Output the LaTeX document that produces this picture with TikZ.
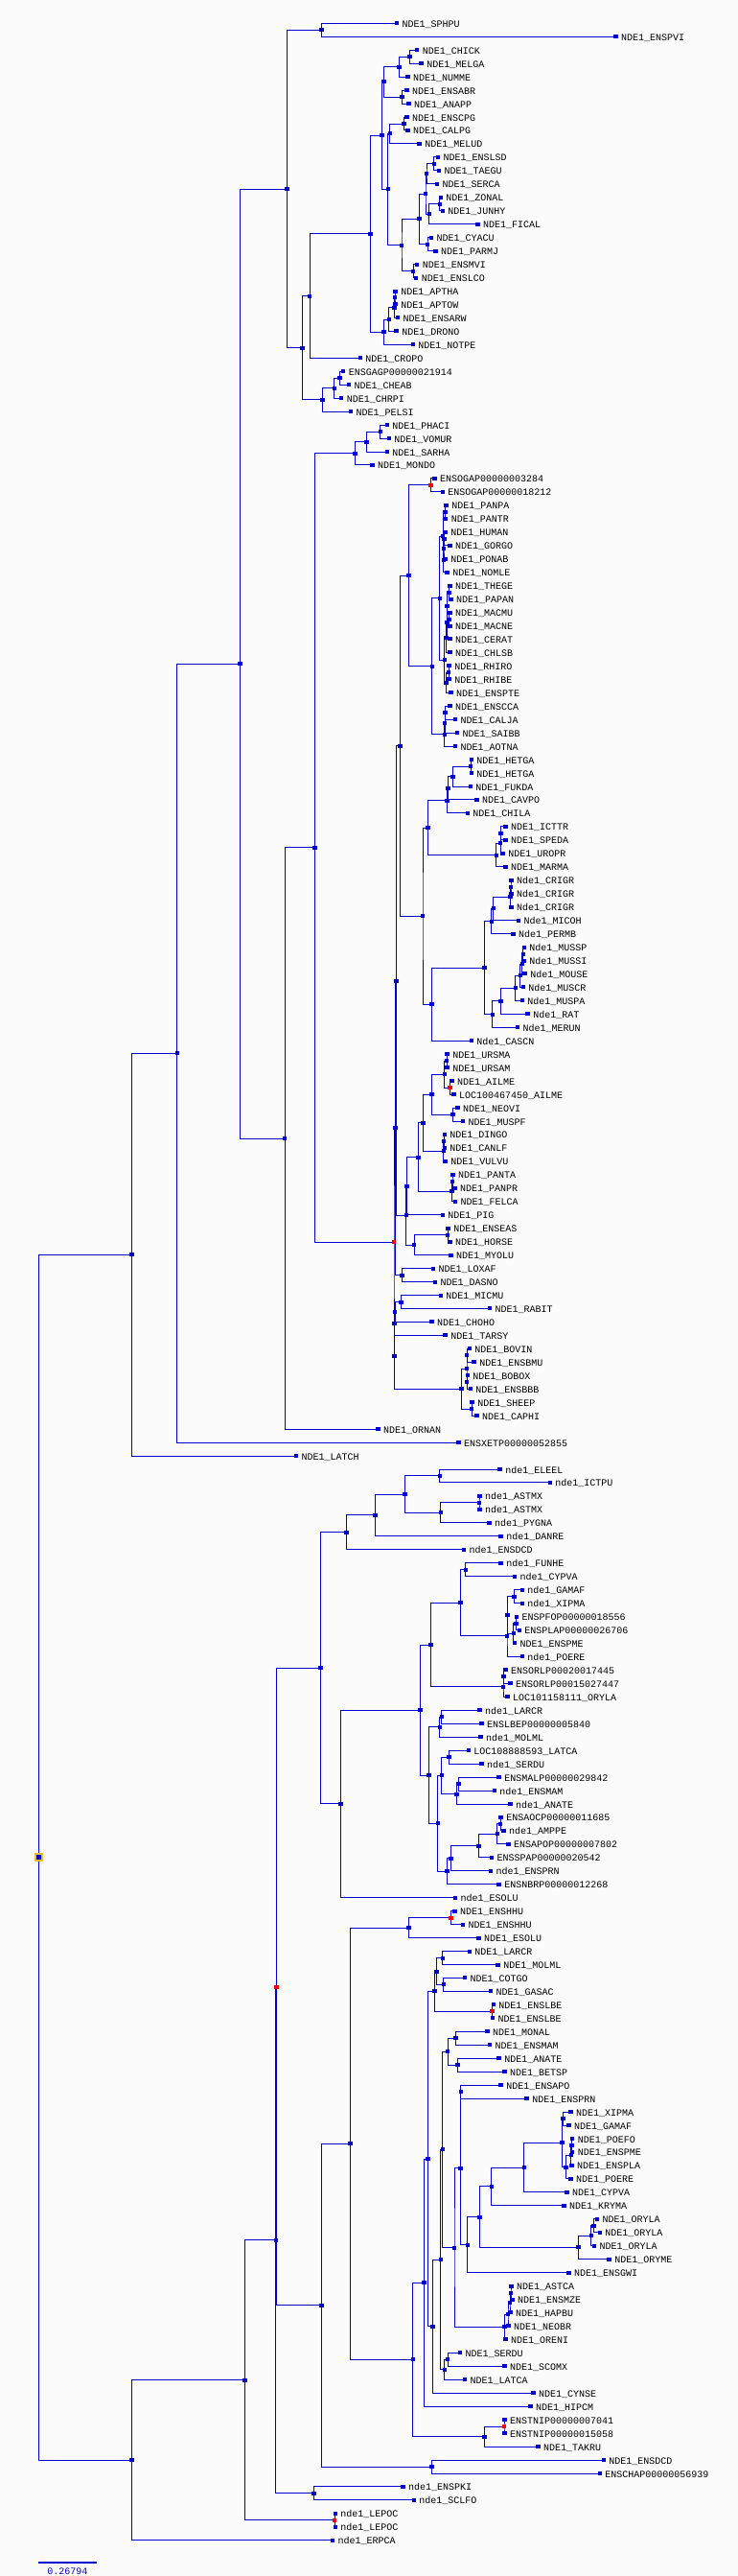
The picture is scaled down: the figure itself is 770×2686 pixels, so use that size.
\documentclass[tikz,border=0pt]{standalone}
\usepackage{fontspec}
\setmonofont{Liberation Mono}
\usetikzlibrary{calc}
\pgfdeclarelayer{bg}
\pgfsetlayers{bg,main}
\definecolor{treeblue}{RGB}{0,0,204}
\definecolor{duplred}{RGB}{255,0,0}
\definecolor{rootgold}{RGB}{235,190,40}
\definecolor{paper}{RGB}{251,251,251}
\tikzset{branch/.style={draw=treeblue, line width=1pt}}
\tikzset{sq/.style={shape=rectangle, fill=treeblue, inner sep=0pt,
    minimum width=4.4pt, minimum height=4pt}}
\tikzset{tip/.style={sq}, inner/.style={sq}, dup/.style={sq, fill=duplred},
    rootnode/.style={sq, draw=rootgold, line width=1.5pt, minimum width=7pt, minimum height=7pt}}
\tikzset{lab/.style={anchor=base west, inner sep=0pt, xshift=5.5pt, yshift=-4pt,
    font=\ttfamily\fontsize{10}{10}\selectfont}}
% leaf: name, row, x, text
\newcommand{\leaf}[4]{%
  \node[tip] (#1) at (#3,{24.3+13.96*(#2-1)}) {};
  \node[lab] (#1t) at (#1.center) {#4};}
% clade: [style] name, x, first child, last child
\newcommand{\clade}[5][inner]{%
  \coordinate (#2x) at (#3,0);
  \coordinate (#2m) at ($(#4)!.5!(#5)$);
  \node[#1] (#2) at (#2x |- #2m) {};
  \begin{pgfonlayer}{bg}
    \draw[branch] (#4.center) -| (#2.center) |- (#5.center);
  \end{pgfonlayer}}

\begin{document}
\begin{tikzpicture}[x=1pt, y=-1pt]
    \begin{pgfonlayer}{bg}
      \fill[paper] (0,0) rectangle (770,2686);
    \end{pgfonlayer}
    \useasboundingbox (0,0) rectangle (770,2686);
    % birds and reptiles
    \leaf{l1}{1}{414.0}{NDE1\_SPHPU}
    \leaf{l2}{2}{642.4}{NDE1\_ENSPVI}
    \leaf{l3}{3}{435.2}{NDE1\_CHICK}
    \leaf{l4}{4}{439.6}{NDE1\_MELGA}
    \leaf{l5}{5}{425.3}{NDE1\_NUMME}
    \leaf{l6}{6}{424.4}{NDE1\_ENSABR}
    \leaf{l7}{7}{426.3}{NDE1\_ANAPP}
    \leaf{l8}{8}{424.4}{NDE1\_ENSCPG}
    \leaf{l9}{9}{425.3}{NDE1\_CALPG}
    \leaf{l10}{10}{437.6}{NDE1\_MELUD}
    \leaf{l11}{11}{456.8}{NDE1\_ENSLSD}
    \leaf{l12}{12}{457.8}{NDE1\_TAEGU}
    \leaf{l13}{13}{455.8}{NDE1\_SERCA}
    \leaf{l14}{14}{459.7}{NDE1\_ZONAL}
    \leaf{l15}{15}{461.7}{NDE1\_JUNHY}
    \leaf{l16}{16}{498.5}{NDE1\_FICAL}
    \leaf{l17}{17}{449.9}{NDE1\_CYACU}
    \leaf{l18}{18}{454.3}{NDE1\_PARMJ}
    \leaf{l19}{19}{435.2}{NDE1\_ENSMVI}
    \leaf{l20}{20}{434.2}{NDE1\_ENSLCO}
    \leaf{l21}{21}{412.6}{NDE1\_APTHA}
    \leaf{l22}{22}{412.6}{NDE1\_APTOW}
    \leaf{l23}{23}{415.0}{NDE1\_ENSARW}
    \leaf{l24}{24}{413.6}{NDE1\_DRONO}
    \leaf{l25}{25}{430.7}{NDE1\_NOTPE}
    \leaf{l26}{26}{375.7}{NDE1\_CROPO}
    \leaf{l27}{27}{358.1}{ENSGAGP00000021914}
    \leaf{l28}{28}{364.0}{NDE1\_CHEAB}
    \leaf{l29}{29}{356.1}{NDE1\_CHRPI}
    \leaf{l30}{30}{365.9}{NDE1\_PELSI}
    \clade{sph}{335.5}{l1}{l2}
    \clade{chmel}{427.3}{l3}{l4}
    \clade{phas}{416.5}{chmel}{l5}
    \clade{anas}{419.4}{l6}{l7}
    \clade{gallo}{400.3}{phas}{anas}
    \clade{calpg}{421.4}{l8}{l9}
    \clade{apod}{406.7}{calpg}{l10}
    \clade{lsd}{452.8}{l11}{l12}
    \clade{serca}{445.0}{lsd}{l13}
    \clade{zonal}{458.7}{l14}{l15}
    \clade{fical}{447.9}{zonal}{l16}
    \clade{passA}{444.0}{serca}{fical}
    \clade{cyacu}{446.0}{l17}{l18}
    \clade{passB}{437.6}{passA}{cyacu}
    \clade{mvi}{431.2}{l19}{l20}
    \clade{neoav}{419.0}{passB}{mvi}
    \clade{apodB}{404.7}{apod}{neoav}
    \clade{neog}{398.3}{gallo}{apodB}
    \clade{apt}{412.0}{l21}{l22}
    \clade{aptB}{411.5}{apt}{l23}
    \clade{drono}{405.7}{aptB}{l24}
    \clade{ratite}{400.3}{drono}{l25}
    \clade{aves}{386.5}{neog}{ratite}
    \clade{cropo}{323.2}{aves}{l26}
    \clade{chel}{354.6}{l27}{l28}
    \clade{chelB}{348.7}{chel}{l29}
    \clade{chelC}{336.4}{chelB}{l30}
    \clade{sauria}{315.3}{cropo}{chelC}
    \clade{sauB}{299.6}{sph}{sauria}
    % mammals
    \leaf{l31}{31}{403.7}{NDE1\_PHACI}
    \leaf{l32}{32}{405.7}{NDE1\_VOMUR}
    \leaf{l33}{33}{403.7}{NDE1\_SARHA}
    \leaf{l34}{34}{388.5}{NDE1\_MONDO}
    \leaf{l35}{35}{453.3}{ENSOGAP00000003284}
    \leaf{l36}{36}{461.7}{ENSOGAP00000018212}
    \leaf{l37}{37}{465.6}{NDE1\_PANPA}
    \leaf{l38}{38}{465.1}{NDE1\_PANTR}
    \leaf{l39}{39}{464.6}{NDE1\_HUMAN}
    \leaf{l40}{40}{469.5}{NDE1\_GORGO}
    \leaf{l41}{41}{464.6}{NDE1\_PONAB}
    \leaf{l42}{42}{466.6}{NDE1\_NOMLE}
    \leaf{l43}{43}{469.5}{NDE1\_THEGE}
    \leaf{l44}{44}{470.5}{NDE1\_PAPAN}
    \leaf{l45}{45}{469.5}{NDE1\_MACMU}
    \leaf{l46}{46}{469.5}{NDE1\_MACNE}
    \leaf{l47}{47}{469.5}{NDE1\_CERAT}
    \leaf{l48}{48}{469.5}{NDE1\_CHLSB}
    \leaf{l49}{49}{468.6}{NDE1\_RHIRO}
    \leaf{l50}{50}{468.6}{NDE1\_RHIBE}
    \leaf{l51}{51}{470.5}{NDE1\_ENSPTE}
    \leaf{l52}{52}{469.5}{NDE1\_ENSCCA}
    \leaf{l53}{53}{475.0}{NDE1\_CALJA}
    \leaf{l54}{54}{476.9}{NDE1\_SAIBB}
    \leaf{l55}{55}{475.0}{NDE1\_AOTNA}
    \leaf{l56}{56}{491.7}{NDE1\_HETGA}
    \leaf{l57}{57}{491.7}{NDE1\_HETGA}
    \leaf{l58}{58}{490.7}{NDE1\_FUKDA}
    \leaf{l59}{59}{497.5}{NDE1\_CAVPO}
    \leaf{l60}{60}{487.7}{NDE1\_CHILA}
    \leaf{l61}{61}{527.5}{NDE1\_ICTTR}
    \leaf{l62}{62}{527.5}{NDE1\_SPEDA}
    \leaf{l63}{63}{524.6}{NDE1\_UROPR}
    \leaf{l64}{64}{527.5}{NDE1\_MARMA}
    \leaf{l65}{65}{533.4}{Nde1\_CRIGR}
    \leaf{l66}{66}{533.4}{Nde1\_CRIGR}
    \leaf{l67}{67}{533.4}{Nde1\_CRIGR}
    \leaf{l68}{68}{540.8}{Nde1\_MICOH}
    \leaf{l69}{69}{535.4}{Nde1\_PERMB}
    \leaf{l70}{70}{546.7}{Nde1\_MUSSP}
    \leaf{l71}{71}{546.7}{Nde1\_MUSSI}
    \leaf{l72}{72}{547.6}{Nde1\_MOUSE}
    \leaf{l73}{73}{545.7}{Nde1\_MUSCR}
    \leaf{l74}{74}{544.7}{Nde1\_MUSPA}
    \leaf{l75}{75}{550.6}{Nde1\_RAT}
    \leaf{l76}{76}{539.8}{Nde1\_MERUN}
    \leaf{l77}{77}{491.7}{Nde1\_CASCN}
    \leaf{l78}{78}{466.6}{NDE1\_URSMA}
    \leaf{l79}{79}{466.6}{NDE1\_URSAM}
    \leaf{l80}{80}{471.5}{NDE1\_AILME}
    \leaf{l81}{81}{473.5}{LOC100467450\_AILME}
    \leaf{l82}{82}{477.4}{NDE1\_NEOVI}
    \leaf{l83}{83}{482.8}{NDE1\_MUSPF}
    \leaf{l84}{84}{463.7}{NDE1\_DINGO}
    \leaf{l85}{85}{463.7}{NDE1\_CANLF}
    \leaf{l86}{86}{464.6}{NDE1\_VULVU}
    \leaf{l87}{87}{472.5}{NDE1\_PANTA}
    \leaf{l88}{88}{474.5}{NDE1\_PANPR}
    \leaf{l89}{89}{475.0}{NDE1\_FELCA}
    \leaf{l90}{90}{461.7}{NDE1\_PIG}
    \leaf{l91}{91}{467.6}{NDE1\_ENSEAS}
    \leaf{l92}{92}{469.5}{NDE1\_HORSE}
    \leaf{l93}{93}{470.5}{NDE1\_MYOLU}
    \leaf{l94}{94}{451.9}{NDE1\_LOXAF}
    \leaf{l95}{95}{453.8}{NDE1\_DASNO}
    \leaf{l96}{96}{459.7}{NDE1\_MICMU}
    \leaf{l97}{97}{510.8}{NDE1\_RABIT}
    \leaf{l98}{98}{450.4}{NDE1\_CHOHO}
    \leaf{l99}{99}{464.6}{NDE1\_TARSY}
    \leaf{l100}{100}{489.7}{NDE1\_BOVIN}
    \leaf{l101}{101}{494.6}{NDE1\_ENSBMU}
    \leaf{l102}{102}{487.7}{NDE1\_BOBOX}
    \leaf{l103}{103}{490.7}{NDE1\_ENSBBB}
    \leaf{l104}{104}{492.6}{NDE1\_SHEEP}
    \leaf{l105}{105}{497.5}{NDE1\_CAPHI}
    \leaf{l106}{106}{394.4}{NDE1\_ORNAN}
    \leaf{l107}{107}{478.4}{ENSXETP00000052855}
    \leaf{l108}{108}{309.0}{NDE1\_LATCH}
    \clade{phaci}{396.9}{l31}{l32}
    \clade{sarha}{382.6}{phaci}{l33}
    \clade{marsup}{370.3}{sarha}{l34}
    \clade[dup]{ogap}{449.4}{l35}{l36}
    \clade{pan}{464.6}{l37}{l38}
    \clade{homgor}{463.5}{l39}{l40}
    \clade{hgp}{463.0}{homgor}{l41}
    \clade{hgpn}{462.7}{hgp}{l42}
    \clade{hom}{462.2}{pan}{hgpn}
    \clade{thpa}{468.6}{l43}{l44}
    \clade{macs}{468.6}{l45}{l46}
    \clade{papio}{466.6}{thpa}{macs}
    \clade{cerat}{466.6}{papio}{l47}
    \clade{cercop}{465.6}{cerat}{l48}
    \clade{rhin}{468.1}{l49}{l50}
    \clade{colob}{465.6}{rhin}{l51}
    \clade{owm}{463.7}{cercop}{colob}
    \clade{catar}{458.7}{hom}{owm}
    \clade{cca}{464.6}{l52}{l53}
    \clade{saibb}{464.1}{cca}{l54}
    \clade{nwm}{463.7}{saibb}{l55}
    \clade{simi}{450.9}{catar}{nwm}
    \clade{prim}{426.3}{ogap}{simi}
    \clade{hetga}{491.2}{l56}{l57}
    \clade{fukda}{472.5}{hetga}{l58}
    \clade{cavpo}{467.6}{fukda}{l59}
    \clade{hystr}{466.6}{cavpo}{l60}
    \clade{ictsp}{522.6}{l61}{l62}
    \clade{uropr}{522.1}{ictsp}{l63}
    \clade{sciur}{517.7}{uropr}{l64}
    \clade{rodA}{446.5}{hystr}{sciur}
    \clade{crigrA}{533.0}{l65}{l66}
    \clade{crigrB}{532.5}{crigrA}{l67}
    \clade{micoh}{514.7}{crigrB}{l68}
    \clade{cricet}{512.8}{micoh}{l69}
    \clade{mussp}{545.7}{l70}{l71}
    \clade{mouse}{544.7}{mussp}{l72}
    \clade{muscr}{542.7}{mouse}{l73}
    \clade{muspa}{537.8}{muscr}{l74}
    \clade{rat}{522.6}{muspa}{l75}
    \clade{murid}{513.8}{rat}{l76}
    \clade{muroid}{505.4}{cricet}{murid}
    \clade{casto}{450.4}{muroid}{l77}
    \clade{rodent}{441.0}{rodA}{casto}
    \clade{euarch}{417.5}{prim}{rodent}
    \clade{ursid}{466.1}{l78}{l79}
    \clade[dup]{ailme}{469.5}{l80}{l81}
    \clade{arcto}{463.7}{ursid}{ailme}
    \clade{mustel}{472.5}{l82}{l83}
    \clade{arctoB}{450.4}{arcto}{mustel}
    \clade{dingo}{463.2}{l84}{l85}
    \clade{canid}{462.7}{dingo}{l86}
    \clade{canif}{441.5}{arctoB}{canid}
    \clade{panth}{472.0}{l87}{l88}
    \clade{felid}{471.5}{panth}{l89}
    \clade{carniv}{436.6}{canif}{felid}
    \clade{pig}{424.4}{carniv}{l90}
    \clade{equus}{467.1}{l91}{l92}
    \clade{myolu}{432.2}{equus}{l93}
    \clade{laura}{423.9}{pig}{myolu}
    \clade{boreo}{413.6}{euarch}{laura}
    \clade{atlan}{419.5}{l94}{l95}
    \clade{plac}{412.6}{boreo}{atlan}
    \clade{micmu}{418.5}{l96}{l97}
    \clade{choho}{412.1}{micmu}{l98}
    \clade{tarsy}{411.6}{choho}{l99}
    \clade{bosA}{487.2}{l100}{l101}
    \clade{bosB}{487.2}{l102}{l103}
    \clade{bos}{487.0}{bosA}{bosB}
    \clade{capri}{492.1}{l104}{l105}
    \clade{bovid}{481.3}{bos}{capri}
    \clade{placB}{411.3}{tarsy}{bovid}
    \clade[dup]{euth}{411.0}{plac}{placB}
    \clade{theria}{328.6}{marsup}{euth}
    \clade{mamm}{297.2}{theria}{l106}
    \clade{amniota}{250.5}{sauB}{mamm}
    \clade{tetra}{184.7}{amniota}{l107}
    \clade{sarco}{137.5}{tetra}{l108}
    % fishes, first copy
    \leaf{l109}{109}{521.6}{nde1\_ELEEL}
    \leaf{l110}{110}{573.7}{nde1\_ICTPU}
    \leaf{l111}{111}{500.5}{nde1\_ASTMX}
    \leaf{l112}{112}{500.5}{nde1\_ASTMX}
    \leaf{l113}{113}{510.3}{nde1\_PYGNA}
    \leaf{l114}{114}{522.6}{nde1\_DANRE}
    \leaf{l115}{115}{483.8}{nde1\_ENSDCD}
    \leaf{l116}{116}{522.6}{nde1\_FUNHE}
    \leaf{l117}{117}{536.8}{nde1\_CYPVA}
    \leaf{l118}{118}{544.7}{nde1\_GAMAF}
    \leaf{l119}{119}{544.7}{nde1\_XIPMA}
    \leaf{l120}{120}{538.8}{ENSPFOP00000018556}
    \leaf{l121}{121}{541.7}{ENSPLAP00000026706}
    \leaf{l122}{122}{536.8}{NDE1\_ENSPME}
    \leaf{l123}{123}{544.7}{nde1\_POERE}
    \leaf{l124}{124}{527.5}{ENSORLP00020017445}
    \leaf{l125}{125}{532.4}{ENSORLP00015027447}
    \leaf{l126}{126}{529.5}{LOC101158111\_ORYLA}
    \leaf{l127}{127}{500.5}{nde1\_LARCR}
    \leaf{l128}{128}{502.5}{ENSLBEP00000005840}
    \leaf{l129}{129}{501.5}{nde1\_MOLML}
    \leaf{l130}{130}{488.7}{LOC108888593\_LATCA}
    \leaf{l131}{131}{502.5}{nde1\_SERDU}
    \leaf{l132}{132}{520.6}{ENSMALP00000029842}
    \leaf{l133}{133}{515.7}{nde1\_ENSMAM}
    \leaf{l134}{134}{532.4}{nde1\_ANATE}
    \leaf{l135}{135}{522.6}{ENSAOCP00000011685}
    \leaf{l136}{136}{525.5}{nde1\_AMPPE}
    \leaf{l137}{137}{530.5}{ENSAPOP00000007802}
    \leaf{l138}{138}{512.8}{ENSSPAP00000020542}
    \leaf{l139}{139}{511.8}{nde1\_ENSPRN}
    \leaf{l140}{140}{520.6}{ENSNBRP00000012268}
    \leaf{l141}{141}{475.0}{nde1\_ESOLU}
    \clade{eleel}{458.7}{l109}{l110}
    \clade{astmx}{500.0}{l111}{l112}
    \clade{pygna}{459.7}{astmx}{l113}
    \clade{otoA}{422.4}{eleel}{pygna}
    \clade{danre}{391.5}{otoA}{l114}
    \clade{oto}{361.5}{danre}{l115}
    \clade{funhe}{485.8}{l116}{l117}
    \clade{gamxip}{536.3}{l118}{l119}
    \clade{pfopla}{538.3}{l120}{l121}
    \clade{pme}{535.9}{pfopla}{l122}
    \clade{poecA}{529.5}{gamxip}{pme}
    \clade{poec}{529.0}{poecA}{l123}
    \clade{cypr}{480.4}{funhe}{poec}
    \clade{orlA}{525.5}{l124}{l125}
    \clade{orl}{525.0}{orlA}{l126}
    \clade{atherA}{449.4}{cypr}{orl}
    \clade{larcr}{460.7}{l127}{l128}
    \clade{molml}{458.7}{larcr}{l129}
    \clade{latca}{468.6}{l130}{l131}
    \clade{malp}{478.4}{l132}{l133}
    \clade{anate}{476.4}{malp}{l134}
    \clade{percB}{460.7}{latca}{anate}
    \clade{aocp}{522.1}{l135}{l136}
    \clade{apop}{518.7}{aocp}{l137}
    \clade{spap}{499.5}{apop}{l138}
    \clade{prn}{470.5}{spap}{l139}
    \clade{nbrp}{466.6}{prn}{l140}
    \clade{percC}{456.8}{percB}{nbrp}
    \clade{percA}{447.4}{molml}{percC}
    \clade{euteleoA}{438.6}{atherA}{percA}
    \clade{esox}{355.6}{euteleoA}{l141}
    \clade{teleoA}{334.5}{oto}{esox}
    % fishes, second copy
    \leaf{l142}{142}{474.5}{NDE1\_ENSHHU}
    \leaf{l143}{143}{482.8}{NDE1\_ENSHHU}
    \leaf{l144}{144}{499.5}{NDE1\_ESOLU}
    \leaf{l145}{145}{489.7}{NDE1\_LARCR}
    \leaf{l146}{146}{519.6}{NDE1\_MOLML}
    \leaf{l147}{147}{484.8}{NDE1\_COTGO}
    \leaf{l148}{148}{511.8}{NDE1\_GASAC}
    \leaf{l149}{149}{514.7}{NDE1\_ENSLBE}
    \leaf{l150}{150}{513.8}{NDE1\_ENSLBE}
    \leaf{l151}{151}{508.3}{NDE1\_MONAL}
    \leaf{l152}{152}{510.8}{NDE1\_ENSMAM}
    \leaf{l153}{153}{520.6}{NDE1\_ANATE}
    \leaf{l154}{154}{526.5}{NDE1\_BETSP}
    \leaf{l155}{155}{522.6}{NDE1\_ENSAPO}
    \leaf{l156}{156}{549.6}{NDE1\_ENSPRN}
    \leaf{l157}{157}{595.3}{NDE1\_XIPMA}
    \leaf{l158}{158}{593.3}{NDE1\_GAMAF}
    \leaf{l159}{159}{597.2}{NDE1\_POEFO}
    \leaf{l160}{160}{597.2}{NDE1\_ENSPME}
    \leaf{l161}{161}{596.3}{NDE1\_ENSPLA}
    \leaf{l162}{162}{595.3}{NDE1\_POERE}
    \leaf{l163}{163}{591.4}{NDE1\_CYPVA}
    \leaf{l164}{164}{588.4}{NDE1\_KRYMA}
    \leaf{l165}{165}{622.8}{NDE1\_ORYLA}
    \leaf{l166}{166}{625.7}{NDE1\_ORYLA}
    \leaf{l167}{167}{619.8}{NDE1\_ORYLA}
    \leaf{l168}{168}{635.6}{NDE1\_ORYME}
    \leaf{l169}{169}{593.3}{NDE1\_ENSGWI}
    \leaf{l170}{170}{533.4}{NDE1\_ASTCA}
    \leaf{l171}{171}{534.4}{NDE1\_ENSMZE}
    \leaf{l172}{172}{532.4}{NDE1\_HAPBU}
    \leaf{l173}{173}{530.5}{NDE1\_NEOBR}
    \leaf{l174}{174}{527.5}{NDE1\_ORENI}
    \leaf{l175}{175}{479.9}{NDE1\_SERDU}
    \leaf{l176}{176}{526.5}{NDE1\_SCOMX}
    \leaf{l177}{177}{484.8}{NDE1\_LATCA}
    \leaf{l178}{178}{556.5}{NDE1\_CYNSE}
    \leaf{l179}{179}{553.5}{NDE1\_HIPCM}
    \leaf{l180}{180}{526.5}{ENSTNIP00000007041}
    \leaf{l181}{181}{526.5}{ENSTNIP00000015058}
    \leaf{l182}{182}{561.4}{NDE1\_TAKRU}
    \leaf{l183}{183}{629.7}{NDE1\_ENSDCD}
    \leaf{l184}{184}{625.7}{ENSCHAP00000056939}
    \leaf{l185}{185}{420.4}{nde1\_ENSPKI}
    \leaf{l186}{186}{431.7}{nde1\_SCLFO}
    \leaf{l187}{187}{349.7}{nde1\_LEPOC}
    \leaf{l188}{188}{349.7}{nde1\_LEPOC}
    \leaf{l189}{189}{346.8}{nde1\_ERPCA}
    \clade[dup]{hhu}{470.5}{l142}{l143}
    \clade{esolu}{426.3}{hhu}{l144}
    \clade{larcrB}{461.7}{l145}{l146}
    \clade{cotgo}{462.7}{l147}{l148}
    \clade{percE}{455.3}{larcrB}{cotgo}
    \clade[dup]{lbe}{513.3}{l149}{l150}
    \clade{percF}{453.3}{percE}{lbe}
    \clade{monal}{475.4}{l151}{l152}
    \clade{betsp}{477.4}{l153}{l154}
    \clade{anab}{467.1}{monal}{betsp}
    \clade{apo}{480.9}{l155}{l156}
    \clade{xipgam}{587.4}{l157}{l158}
    \clade{poefo}{596.3}{l159}{l160}
    \clade{pla}{595.8}{poefo}{l161}
    \clade{poere}{590.4}{pla}{l162}
    \clade{poecB}{586.4}{xipgam}{poere}
    \clade{cypva}{546.7}{poecB}{l163}
    \clade{kryma}{512.8}{cypva}{l164}
    \clade{oryA}{619.3}{l165}{l166}
    \clade{oryB}{616.9}{oryA}{l167}
    \clade{ory}{603.6}{oryB}{l168}
    \clade{atherB}{500.5}{kryma}{ory}
    \clade{gwi}{487.7}{atherB}{l169}
    \clade{ovalA}{480.4}{apo}{gwi}
    \clade{astca}{533.0}{l170}{l171}
    \clade{hapbu}{532.0}{astca}{l172}
    \clade{neobr}{530.0}{hapbu}{l173}
    \clade{cichl}{526.5}{neobr}{l174}
    \clade{ovalB}{474.0}{ovalA}{cichl}
    \clade{ovalC}{461.7}{anab}{ovalB}
    \clade{serdu}{467.1}{l175}{l176}
    \clade{latcaB}{463.7}{serdu}{l177}
    \clade{percD}{459.7}{ovalC}{latcaB}
    \clade{cynse}{451.4}{percD}{l178}
    \clade{percG}{446.5}{percF}{cynse}
    \clade{hipcm}{442.5}{percG}{l179}
    \clade[dup]{tni}{526.0}{l180}{l181}
    \clade{takru}{505.4}{tni}{l182}
    \clade{percH}{430.7}{hipcm}{takru}
    \clade{euteleoB}{365.4}{esolu}{percH}
    \clade{dcd}{450.4}{l183}{l184}
    \clade{teleoB}{335.5}{euteleoB}{dcd}
    \clade[dup]{teleo}{288.3}{teleoA}{teleoB}
    \clade{pki}{327.6}{l185}{l186}
    \clade{actinA}{287.8}{teleo}{pki}
    \clade[dup]{lepoc}{349.2}{l187}{l188}
    \clade{actinB}{255.4}{actinA}{lepoc}
    \clade{actin}{137.5}{actinB}{l189}
    % root
    \clade[rootnode]{root}{40.3}{sarco}{actin}
    % scale bar
    \coordinate (sbl) at (40.3,2671.7);
    \coordinate (sbr) at (100.7,2671.7);
    \draw[treeblue, line width=2pt] (sbl) -- (sbr);
    \node[anchor=base, inner sep=0pt, text=treeblue, font=\ttfamily\fontsize{10}{10}\selectfont]
      (sbt) at (70.5,2684) {0.26794};
\end{tikzpicture}
\end{document}
